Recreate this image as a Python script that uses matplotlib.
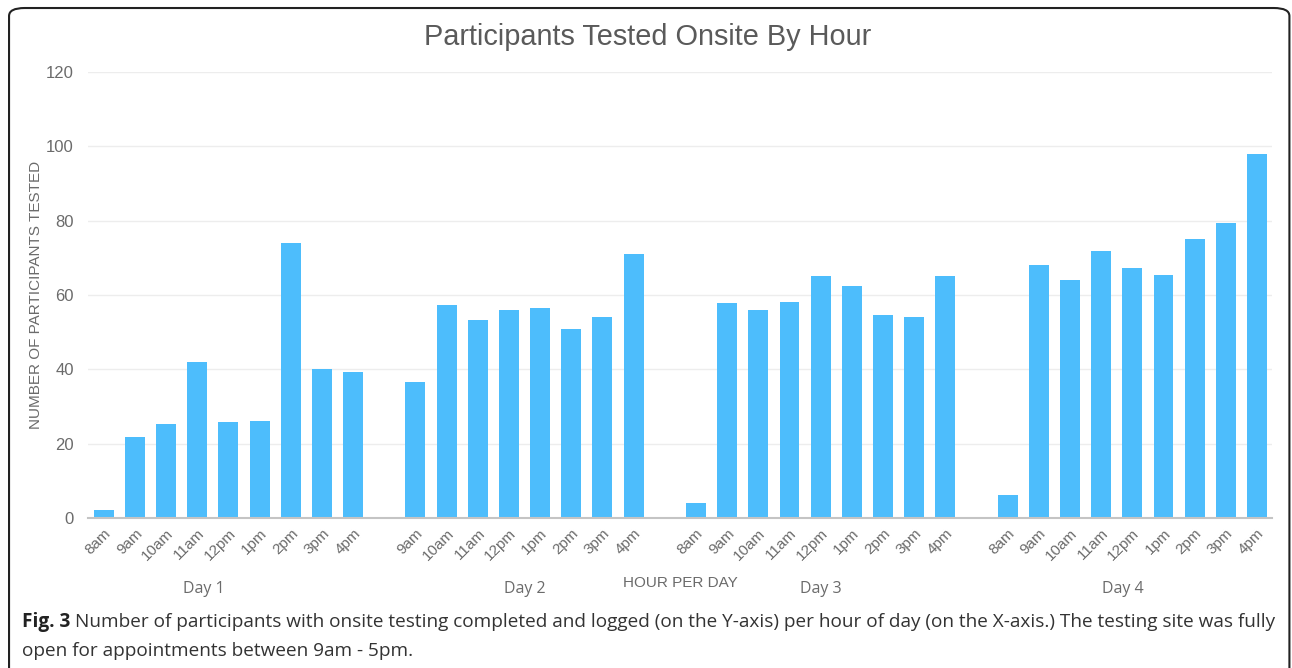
import matplotlib.pyplot as plt
from matplotlib.patches import FancyBboxPatch
import numpy as np

plt.rcParams['font.family'] = ['Liberation Sans', 'DejaVu Sans']

days = ['Day 1', 'Day 2', 'Day 3', 'Day 4']
hours = [
    ['8am', '9am', '10am', '11am', '12pm', '1pm', '2pm', '3pm', '4pm'],
    ['9am', '10am', '11am', '12pm', '1pm', '2pm', '3pm', '4pm'],
    ['8am', '9am', '10am', '11am', '12pm', '1pm', '2pm', '3pm', '4pm'],
    ['8am', '9am', '10am', '11am', '12pm', '1pm', '2pm', '3pm', '4pm'],
]
day1 = [2.2, 21.8, 25.2, 42.0, 25.7, 26.2, 74.0, 40.1, 39.2]
day2 = [36.5, 57.3, 53.2, 56.0, 56.4, 50.8, 54.1, 70.9]
day3 = [4.0, 57.8, 56.0, 58.2, 65.0, 62.3, 54.5, 54.1, 65.0]
day4 = [6.3, 68.1, 64.1, 71.8, 67.3, 65.5, 75.0, 79.4, 98.0]
values = [day1, day2, day3, day4]

caption_bold = 'Fig. 3'
caption_1 = ('Number of participants with onsite testing completed and logged '
             '(on the Y-axis) per hour of day (on the X-axis.) The testing site was fully')
caption_2 = 'open for appointments between 9am - 5pm.'

bar_color = '#4dbdfc'
text_gray = '#6b6b6b'
cap_font = ['Open Sans', 'DejaVu Sans']

fig = plt.figure(figsize=(12.92, 6.68), dpi=100)
ax = fig.add_axes([0.068, 0.2246, 0.9165, 0.6676])

# one empty slot between days
xs, labels, centers = [], [], []
pos = 0
for hrs in hours:
    x = np.arange(pos, pos + len(hrs))
    xs.append(x)
    labels += hrs
    centers.append(x.mean())
    pos += len(hrs) + 1

for x, v in zip(xs, values):
    ax.bar(x, v, width=0.64, color=bar_color, zorder=3)

all_x = np.concatenate(xs)
ax.set_xticks(all_x)
ax.set_xticklabels(labels, rotation=45, ha='right', rotation_mode='anchor',
                   fontsize=11, color=text_gray)
ax.tick_params(axis='x', length=0, pad=6)
ax.tick_params(axis='y', length=0, pad=10, labelsize=12, labelcolor=text_gray)

ax.set_xlim(-0.51, all_x[-1] + 0.48)
ax.set_ylim(0, 120)
ax.set_yticks(range(0, 121, 20))
ax.grid(axis='y', color='#ededed', linewidth=1, zorder=0)

for s in ['top', 'right', 'left']:
    ax.spines[s].set_visible(False)
ax.spines['bottom'].set_color('#c4c4c4')
ax.spines['bottom'].set_linewidth(1.5)
ax.spines['bottom'].set_zorder(4)

ax.set_ylabel('NUMBER OF PARTICIPANTS TESTED', fontsize=11, color=text_gray,
              labelpad=2)

day_offsets = [-0.8, 0, 0, -0.3]
for c, d, off in zip(centers, days, day_offsets):
    ax.text(c + off, -19.0, d, ha='center', va='center', fontsize=11.5,
            color=text_gray, family=cap_font)
ax.text(18.5, -17.5, 'HOUR PER DAY', ha='center', va='center', fontsize=11,
        color=text_gray)

fig.text(0.501, 0.945, 'Participants Tested Onsite By Hour', ha='center',
         va='center', fontsize=20.8, color='#5a5a5a')

# caption
cap_size = 13.65
b = fig.text(0.017, 1 - 622 / 668, caption_bold, ha='left', va='center',
             fontsize=cap_size, fontweight='bold', color='#222222', family=cap_font)
fig.canvas.draw()
bb = b.get_window_extent()
fig.text((bb.x1 + 5) / fig.bbox.width, 1 - 622 / 668, caption_1, ha='left',
         va='center', fontsize=cap_size, color='#333333', family=cap_font)
fig.text(0.017, 1 - 651 / 668, caption_2, ha='left', va='center',
         fontsize=cap_size, color='#333333', family=cap_font)

frame = FancyBboxPatch((0.007, -0.05), 0.991, 1.038, transform=fig.transFigure,
                       boxstyle='round,pad=0,rounding_size=0.012',
                       fill=False, edgecolor='#222222', linewidth=1.5)
fig.patches.append(frame)

fig.savefig('out.png', dpi=100)
